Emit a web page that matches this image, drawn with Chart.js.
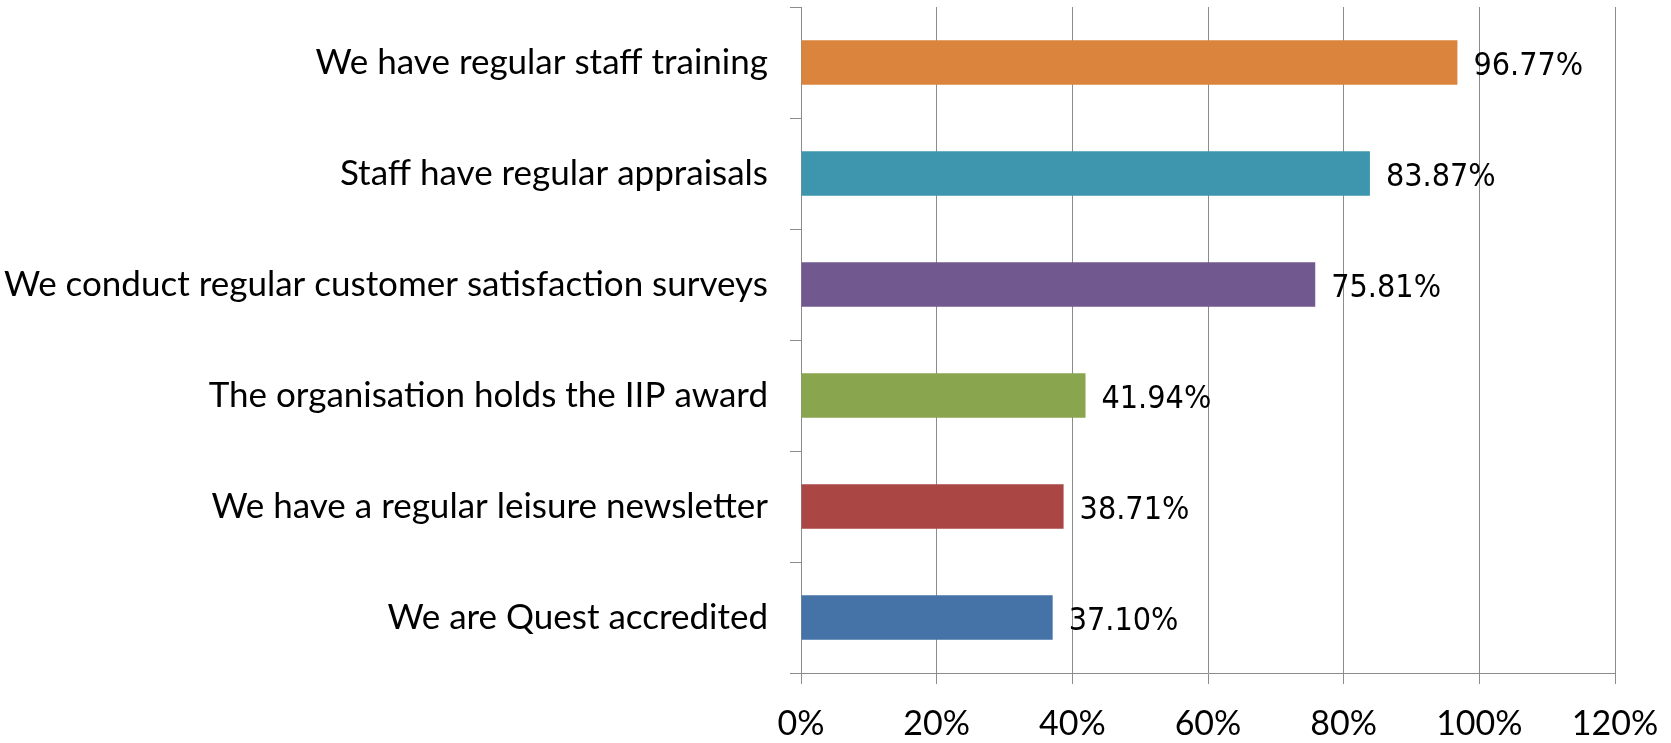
<!DOCTYPE html>
<html>
<head>
<meta charset="utf-8">
<script src="https://cdn.jsdelivr.net/npm/chart.js@4"></script>
<style>
  html, body { margin: 0; padding: 0; background: #fff; }
  #wrap { width: 1671px; height: 743px; }
</style>
</head>
<body>
<div id="wrap"><canvas id="barChart" width="1671" height="743"></canvas></div>
<script>
// categories, top to bottom
const categories = [
    'We have regular staff training',
    'Staff have regular appraisals',
    'We conduct regular customer satisfaction surveys',
    'The organisation holds the IIP award',
    'We have a regular leisure newsletter',
    'We are Quest accredited'
];
const percentValues = [96.77, 83.87, 75.81, 41.94, 38.71, 37.10];
const barColors = ['#DB843D', '#3D96AE', '#71588F', '#89A54E', '#AA4643', '#4572A7'];
const xTicks = [0, 20, 40, 60, 80, 100, 120];

// draws "96.77%" etc. to the right of each bar
const valueLabels = {
    id: 'valueLabels',
    afterDatasetsDraw(chart) {
        const ctx = chart.ctx;
        const meta = chart.getDatasetMeta(0);
        ctx.save();
        ctx.font = '32px "DejaVu Sans Condensed", "DejaVu Sans"';
        ctx.fillStyle = '#000';
        ctx.textBaseline = 'middle';
        ctx.textAlign = 'left';
        meta.data.forEach((bar, i) => {
            ctx.fillText(percentValues[i].toFixed(2) + '%', bar.x + 16, bar.y + 4);
        });
        ctx.restore();
    }
};

const barChartCtx = document.getElementById('barChart').getContext('2d');
const barChart = new Chart(barChartCtx, {
    type: 'bar',
    data: {
        labels: categories,
        datasets: [{
            data: percentValues,
            backgroundColor: barColors,
            borderWidth: 0,
            barPercentage: 0.4,
            categoryPercentage: 1.0
        }]
    },
    options: {
        indexAxis: 'y',
        responsive: false,
        animation: false,
        events: [],
        layout: { padding: { top: 7, right: 56, left: 0, bottom: 0 } },
        plugins: {
            legend: { display: false },
            tooltip: { enabled: false }
        },
        scales: {
            x: {
                min: 0,
                max: 120,
                afterBuildTicks(scale) {
                    scale.ticks = xTicks.map(v => ({ value: v }));
                },
                afterFit(scale) {
                    scale.height = 70;
                    scale.paddingLeft = 0;
                    scale.paddingRight = 0;
                },
                grid: { color: '#8c8c8c', lineWidth: 1, tickLength: 11 },
                border: { color: '#8c8c8c', width: 1 },
                ticks: {
                    color: '#000',
                    padding: 20,
                    maxRotation: 0,
                    font: { family: 'Lato', size: 34 },
                    callback: v => v + '%'
                }
            },
            y: {
                afterFit(scale) {
                    scale.width = 801;
                    scale.paddingTop = 0;
                    scale.paddingBottom = 0;
                },
                grid: { drawOnChartArea: false, color: '#8c8c8c', tickLength: 11, offset: true },
                border: { color: '#8c8c8c', width: 1 },
                ticks: {
                    color: '#000',
                    padding: 22,
                    font: { family: 'Lato', size: 35 }
                }
            }
        }
    },
    plugins: [valueLabels]
});
</script>
</body>
</html>
